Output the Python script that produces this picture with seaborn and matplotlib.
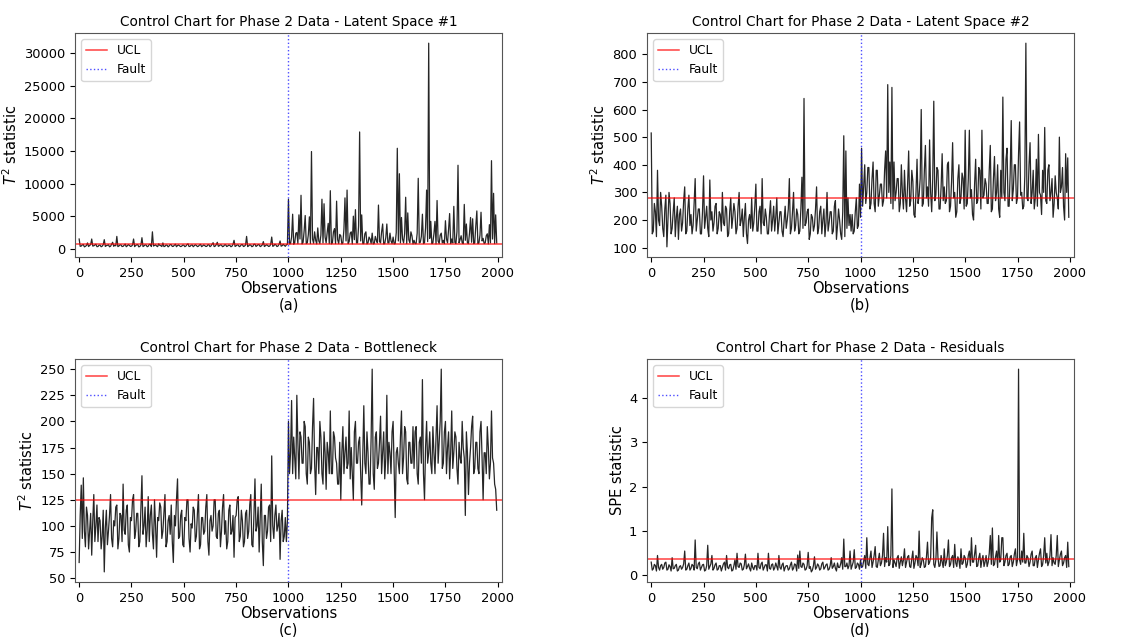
import seaborn as sns
import matplotlib
matplotlib.use("Agg")
import matplotlib.pyplot as plt

# observation index (read every 5 observations)
obs = list(range(0, 2000, 5))

# T2 statistic, latent space #1
t2_latent1 = [
    1500, 380, 420, 600, 650, 300, 380, 520, 900, 350, 520, 640, 1500, 420, 460, 580, 700, 330, 350, 560,
    560, 320, 400, 620, 1400, 360, 480, 540, 620, 310, 390, 700, 1000, 380, 550, 460, 1900, 340, 430, 600,
    600, 350, 380, 560, 720, 320, 450, 640, 540, 360, 410, 580, 1500, 330, 500, 620, 640, 300, 370, 560,
    1700, 340, 450, 600, 580, 320, 400, 660, 690, 350, 2600, 420, 520, 610, 430, 330, 760, 540, 480, 350,
    900, 340, 390, 580, 560, 300, 440, 650, 620, 360, 380, 560, 700, 320, 500, 600, 450, 340, 410, 580,
    560, 330, 420, 640, 760, 350, 380, 560, 590, 320, 460, 620, 520, 340, 400, 580, 680, 330, 440, 600,
    500, 360, 380, 620, 620, 330, 450, 700, 940, 340, 410, 640, 1000, 380, 470, 620, 560, 330, 390, 600,
    620, 350, 430, 580, 520, 320, 400, 660, 1300, 360, 460, 600, 580, 330, 410, 640, 650, 350, 420, 580,
    1900, 340, 450, 620, 560, 330, 390, 700, 700, 360, 480, 640, 620, 340, 430, 600, 1100, 350, 470, 620,
    540, 360, 410, 660, 1800, 380, 460, 700, 600, 350, 420, 680, 1200, 400, 480, 700, 520, 380, 600, 700,
    7600, 750, 800, 1800, 5300, 700, 900, 2400, 2500, 800, 5200, 1500, 8200, 750, 1000, 2800, 5100, 800, 900, 2200,
    4900, 800, 14900, 1500, 850, 2600, 1300, 750, 3200, 1200, 800, 2100, 7600, 900, 6900, 1800, 900, 2500, 3900, 800,
    8900, 750, 900, 2600, 3100, 800, 7300, 1400, 800, 2200, 2000, 750, 900, 3000, 7800, 1200, 9000, 800, 1100, 2400,
    2600, 750, 5000, 1400, 6000, 900, 900, 3500, 17900, 1200, 5200, 800, 800, 2300, 2600, 750, 900, 1800, 1500, 800,
    2400, 750, 800, 1900, 1300, 900, 6700, 1100, 900, 2600, 3800, 750, 800, 1700, 3800, 900, 900, 2400, 1200, 800,
    1800, 750, 800, 2500, 15400, 1200, 11500, 900, 4800, 1500, 900, 2300, 7900, 800, 5500, 1400, 900, 2600, 2000, 750,
    1300, 800, 800, 2400, 10800, 900, 1000, 1900, 5300, 800, 900, 3200, 9000, 1100, 31500, 1600, 4200, 800, 900, 2300,
    4200, 750, 7400, 1200, 800, 2100, 2400, 900, 1300, 800, 4300, 1500, 900, 3000, 5400, 800, 1500, 900, 6500, 1000,
    800, 2600, 12800, 900, 1400, 2000, 900, 800, 6800, 1300, 3800, 900, 800, 2400, 4800, 1000, 4600, 800, 900, 3500,
    5800, 800, 900, 2100, 5600, 1200, 1600, 800, 900, 2000, 2300, 750, 3700, 900, 13500, 1500, 8500, 800, 5200, 900,
]

# T2 statistic, latent space #2
t2_latent2 = [
    515, 150, 160, 260, 230, 140, 380, 200, 180, 300, 250, 170, 140, 240, 290, 103, 200, 300, 260, 150,
    170, 230, 280, 140, 210, 250, 130, 220, 240, 160, 190, 270, 320, 150, 160, 240, 290, 180, 220, 150,
    180, 260, 350, 160, 200, 240, 240, 150, 150, 230, 360, 170, 210, 250, 170, 140, 345, 200, 230, 160,
    190, 250, 260, 150, 170, 230, 220, 160, 300, 190, 180, 250, 240, 140, 150, 230, 280, 170, 210, 260,
    230, 150, 170, 250, 300, 180, 200, 240, 140, 210, 260, 150, 115, 200, 220, 170, 280, 160, 190, 250,
    330, 160, 160, 230, 250, 150, 350, 190, 180, 240, 210, 150, 150, 220, 270, 160, 200, 250, 160, 210,
    280, 150, 190, 230, 230, 160, 140, 200, 250, 170, 200, 240, 350, 150, 170, 230, 300, 160, 180, 240,
    220, 150, 160, 240, 355, 170, 640, 180, 190, 230, 240, 130, 150, 220, 210, 160, 180, 240, 320, 150,
    170, 230, 250, 150, 200, 240, 140, 190, 300, 160, 190, 230, 230, 150, 160, 250, 270, 130, 180, 240,
    200, 150, 130, 230, 505, 140, 450, 170, 280, 180, 220, 160, 220, 150, 160, 230, 280, 170, 180, 330,
    210, 460, 250, 320, 400, 260, 300, 390, 390, 240, 260, 350, 410, 260, 230, 380, 380, 250, 290, 330,
    330, 250, 270, 380, 450, 280, 690, 300, 410, 260, 680, 240, 410, 270, 300, 350, 350, 230, 260, 400,
    300, 240, 380, 280, 230, 330, 450, 250, 270, 380, 340, 220, 210, 300, 420, 260, 290, 350, 600, 250,
    260, 380, 470, 280, 320, 250, 490, 300, 230, 350, 630, 270, 290, 390, 380, 240, 240, 320, 440, 270,
    320, 260, 270, 400, 410, 230, 250, 340, 480, 280, 300, 210, 230, 350, 400, 260, 280, 370, 350, 240,
    525, 250, 260, 350, 525, 280, 310, 220, 200, 330, 420, 260, 270, 390, 380, 240, 525, 280, 290, 350,
    330, 260, 260, 380, 470, 230, 240, 350, 430, 270, 300, 400, 240, 210, 380, 280, 645, 300, 270, 420,
    460, 250, 250, 370, 560, 270, 310, 400, 400, 260, 280, 440, 555, 290, 300, 240, 250, 360, 840, 280,
    270, 400, 480, 260, 300, 380, 240, 280, 420, 250, 510, 300, 290, 220, 380, 300, 535, 270, 260, 380,
    400, 270, 300, 350, 210, 260, 360, 300, 280, 240, 500, 300, 320, 390, 250, 200, 440, 300, 425, 210,
]

# T2 statistic, bottleneck
t2_bottleneck = [
    65, 110, 139, 88, 146, 95, 80, 118, 110, 78, 95, 112, 72, 105, 130, 85, 100, 120, 85, 108,
    105, 78, 90, 115, 56, 98, 115, 82, 95, 110, 130, 88, 80, 105, 100, 118, 120, 78, 88, 112,
    110, 85, 140, 96, 92, 115, 120, 82, 75, 108, 105, 125, 130, 88, 95, 112, 112, 80, 85, 118,
    148, 92, 100, 118, 80, 96, 128, 85, 110, 120, 92, 78, 125, 100, 70, 108, 105, 122, 118, 88,
    95, 112, 130, 80, 85, 105, 110, 92, 120, 85, 65, 110, 100, 125, 145, 88, 90, 110, 115, 82,
    80, 108, 105, 125, 125, 88, 75, 102, 98, 118, 115, 85, 90, 112, 130, 78, 82, 108, 108, 92,
    95, 118, 130, 85, 72, 105, 110, 95, 100, 125, 125, 90, 88, 112, 115, 80, 95, 118, 130, 92,
    105, 78, 85, 115, 120, 92, 95, 110, 70, 108, 110, 125, 128, 85, 90, 115, 105, 80, 85, 112,
    115, 88, 95, 120, 130, 82, 80, 110, 145, 95, 100, 118, 75, 108, 140, 85, 62, 110, 110, 88,
    95, 118, 120, 85, 167, 100, 88, 110, 120, 95, 100, 112, 68, 105, 115, 85, 90, 108, 85, 105,
    200, 150, 170, 220, 150, 185, 165, 145, 225, 180, 145, 190, 185, 160, 160, 200, 195, 150, 140, 185,
    180, 150, 155, 195, 222, 160, 130, 175, 175, 150, 200, 185, 150, 140, 190, 170, 135, 180, 170, 150,
    210, 150, 150, 190, 185, 165, 160, 140, 140, 180, 125, 170, 195, 150, 170, 185, 155, 160, 210, 145,
    175, 150, 125, 190, 200, 160, 160, 180, 185, 150, 120, 170, 215, 160, 150, 190, 170, 140, 140, 185,
    250, 150, 135, 185, 190, 155, 160, 180, 205, 150, 170, 190, 145, 165, 225, 150, 180, 170, 150, 190,
    200, 155, 108, 170, 175, 160, 150, 185, 210, 150, 165, 195, 190, 145, 140, 180, 180, 160, 160, 195,
    155, 190, 195, 150, 140, 180, 185, 160, 240, 150, 125, 175, 200, 160, 170, 190, 160, 150, 195, 170,
    150, 185, 215, 160, 180, 200, 250, 155, 160, 190, 200, 150, 175, 190, 145, 170, 210, 155, 170, 190,
    185, 155, 140, 180, 165, 160, 200, 175, 165, 110, 190, 170, 130, 160, 175, 195, 205, 150, 155, 180,
    180, 155, 150, 190, 200, 165, 125, 170, 170, 150, 195, 175, 145, 160, 210, 165, 160, 140, 135, 115,
]

# SPE statistic, residuals
spe_residuals = [
    0.30, 0.12, 0.15, 0.25, 0.22, 0.10, 0.45, 0.18, 0.12, 0.22, 0.25, 0.14, 0.18, 0.28, 0.30, 0.12, 0.14, 0.24, 0.20, 0.10,
    0.40, 0.15, 0.16, 0.22, 0.25, 0.10, 0.12, 0.20, 0.22, 0.14, 0.18, 0.26, 0.55, 0.12, 0.14, 0.22, 0.28, 0.12, 0.16, 0.25,
    0.22, 0.12, 0.80, 0.18, 0.15, 0.26, 0.30, 0.12, 0.18, 0.24, 0.25, 0.10, 0.12, 0.22, 0.68, 0.14, 0.20, 0.26, 0.45, 0.12,
    0.16, 0.24, 0.28, 0.12, 0.14, 0.22, 0.22, 0.10, 0.18, 0.26, 0.30, 0.12, 0.45, 0.18, 0.15, 0.24, 0.25, 0.10, 0.12, 0.22,
    0.35, 0.14, 0.50, 0.20, 0.18, 0.28, 0.26, 0.12, 0.14, 0.24, 0.48, 0.15, 0.20, 0.26, 0.16, 0.10, 0.28, 0.18, 0.13, 0.22,
    0.22, 0.12, 0.50, 0.18, 0.15, 0.26, 0.30, 0.12, 0.18, 0.24, 0.24, 0.10, 0.50, 0.16, 0.14, 0.24, 0.26, 0.12, 0.17, 0.28,
    0.20, 0.12, 0.45, 0.18, 0.14, 0.24, 0.28, 0.10, 0.18, 0.22, 0.22, 0.12, 0.15, 0.24, 0.30, 0.12, 0.16, 0.26, 0.24, 0.10,
    0.46, 0.16, 0.55, 0.20, 0.18, 0.28, 0.25, 0.12, 0.14, 0.22, 0.52, 0.16, 0.20, 0.08, 0.12, 0.22, 0.42, 0.14, 0.18, 0.26,
    0.22, 0.12, 0.15, 0.26, 0.30, 0.14, 0.18, 0.24, 0.26, 0.12, 0.14, 0.22, 0.40, 0.16, 0.20, 0.28, 0.16, 0.10, 0.28, 0.18,
    0.18, 0.26, 0.40, 0.14, 0.82, 0.20, 0.20, 0.28, 0.15, 0.22, 0.55, 0.14, 0.22, 0.30, 0.58, 0.16, 0.18, 0.28, 0.25, 0.14,
    0.35, 0.18, 0.20, 0.32, 0.45, 0.16, 0.85, 0.25, 0.22, 0.40, 0.55, 0.18, 0.30, 0.45, 0.65, 0.20, 0.18, 0.35, 0.50, 0.22,
    0.28, 0.45, 0.95, 0.20, 0.40, 0.30, 1.10, 0.22, 0.25, 0.45, 1.95, 0.18, 0.35, 0.28, 0.20, 0.40, 0.45, 0.16, 0.30, 0.42,
    0.22, 0.35, 0.60, 0.18, 0.30, 0.42, 0.45, 0.20, 0.18, 0.38, 0.55, 0.16, 0.28, 0.45, 0.40, 0.22, 1.00, 0.18, 0.25, 0.40,
    0.35, 0.18, 0.20, 0.42, 0.75, 0.25, 0.30, 0.40, 1.30, 1.48, 0.25, 0.18, 0.35, 0.98, 0.40, 0.20, 0.22, 0.45, 0.30, 0.18,
    0.60, 0.22, 0.30, 0.45, 0.80, 0.20, 0.25, 0.40, 0.45, 0.18, 0.70, 0.28, 0.20, 0.42, 0.35, 0.16, 0.60, 0.25, 0.28, 0.45,
    0.40, 0.18, 0.25, 0.45, 0.55, 0.22, 0.85, 0.30, 0.30, 0.48, 0.68, 0.20, 0.22, 0.40, 0.50, 0.18, 0.35, 0.45, 0.20, 0.30,
    0.45, 0.20, 0.30, 0.50, 0.90, 0.25, 1.07, 0.22, 0.25, 0.42, 0.55, 0.18, 0.90, 0.30, 0.35, 0.85, 0.85, 0.22, 0.30, 0.45,
    0.50, 0.22, 0.25, 0.42, 0.45, 0.20, 0.30, 0.48, 0.60, 0.22, 0.35, 4.65, 0.35, 0.25, 0.55, 0.30, 0.95, 0.28, 0.28, 0.45,
    0.40, 0.20, 0.30, 0.48, 0.55, 0.22, 0.22, 0.40, 0.45, 0.18, 0.35, 0.50, 0.60, 0.20, 0.25, 0.45, 0.85, 0.28, 0.50, 0.22,
    0.30, 0.45, 0.92, 0.22, 0.40, 0.28, 0.25, 0.45, 0.90, 0.20, 0.35, 0.48, 0.55, 0.22, 0.28, 0.40, 0.45, 0.18, 0.75, 0.20,
]

titles = ["Latent Space #1", "Latent Space #2", "Bottleneck", "Residuals"]
ylabels = [r"$T^2$ statistic", r"$T^2$ statistic", r"$T^2$ statistic", "SPE statistic"]
letters = ["(a)", "(b)", "(c)", "(d)"]
ucl_values = [800, 278, 125, 0.38]
yticks = [range(0, 30001, 5000), range(100, 801, 100), range(50, 251, 25), range(0, 5)]
fault_at = 1000
series = [t2_latent1, t2_latent2, t2_bottleneck, spe_residuals]

for s in series:
    assert len(s) == len(obs), len(s)

plt.rcParams["font.family"] = ["DejaVu Sans"]
fig = plt.figure(figsize=(11.29, 6.37), dpi=100)

# axes boxes (left, bottom, width, height) in figure fraction
boxes = [
    (0.0664, 0.5965, 0.3782, 0.3517),
    (0.5731, 0.5965, 0.3782, 0.3517),
    (0.0664, 0.0863, 0.3782, 0.3501),
    (0.5731, 0.0863, 0.3782, 0.3501),
]

for i in range(4):
    ax = fig.add_axes(boxes[i])
    sns.lineplot(x=obs, y=series[i], color="black", linewidth=0.9, alpha=0.85, ax=ax)
    ax.axhline(ucl_values[i], color="red", alpha=0.75, linewidth=1.1, label="UCL")
    ax.axvline(fault_at, color="blue", linestyle=":", alpha=0.7, linewidth=1.0, label="Fault")
    ax.set_title("Control Chart for Phase 2 Data - " + titles[i], fontsize=9.8, pad=5)
    ax.set_xlabel("Observations\n" + letters[i], fontsize=10.5, labelpad=1, linespacing=1.1)
    ax.set_ylabel(ylabels[i], fontsize=10.5, labelpad=3)
    ax.set_xticks(range(0, 2001, 250))
    ax.set_yticks(list(yticks[i]))
    ax.set_xlim(-20, 2020)
    ax.tick_params(labelsize=9.4)
    for sp in ax.spines.values():
        sp.set_color("#555555")
    ax.legend(loc="upper left", fontsize=8.8, handlelength=1.7)

fig.savefig("out.png", dpi=100)
